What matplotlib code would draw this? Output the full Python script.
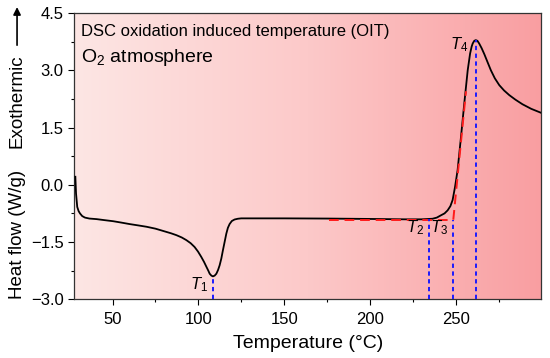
import numpy as np
import matplotlib
matplotlib.use("Agg")
import matplotlib.pyplot as plt
from matplotlib.colors import LinearSegmentedColormap

plt.rcParams['font.family'] = ['Liberation Sans', 'DejaVu Sans']
plt.rcParams['mathtext.fontset'] = 'custom'
plt.rcParams['mathtext.rm'] = 'Liberation Sans'
plt.rcParams['mathtext.it'] = 'Liberation Sans:italic'

# DSC curve (temperature in °C, heat flow in W/g)
temperature = [28.3, 28.7, 29.4, 30.2, 31.0, 32.3, 33.9, 36.5, 40.7, 45.0, 50.4, 55.0,
               60.0, 65.0, 69.8, 75.0, 79.5, 84.0, 87.2, 90.3, 93.0, 95.5, 97.8, 99.8,
               101.7, 103.3, 104.7, 105.8, 106.6, 107.6, 108.5, 109.5, 110.5, 111.5,
               112.4, 113.4, 114.3, 115.3, 116.3, 117.2, 118.2, 119.5, 121.1, 123.0,
               125.0, 130.0, 150.0, 175.0, 200.0, 220.0, 230.0, 236.5, 239.0, 241.4,
               243.5, 245.3, 246.9, 248.2, 249.6, 251.1, 253.1, 255.0, 257.0, 258.4,
               259.3, 259.9, 260.8, 261.7, 262.7, 263.7, 265.1, 266.7, 268.5, 270.5,
               272.8, 275.4, 278.2, 281.2, 284.8, 288.9, 294.0, 299.5]
heat_flow = [0.21, -0.23, -0.58, -0.69, -0.75, -0.82, -0.86, -0.885, -0.90, -0.925,
             -0.955, -0.99, -1.03, -1.065, -1.10, -1.15, -1.21, -1.27, -1.32, -1.38,
             -1.45, -1.53, -1.63, -1.75, -1.89, -2.02, -2.15, -2.25, -2.33, -2.38,
             -2.40, -2.38, -2.33, -2.23, -2.11, -1.93, -1.72, -1.50, -1.28, -1.13,
             -1.03, -0.95, -0.91, -0.89, -0.88, -0.88, -0.88, -0.885, -0.895, -0.905,
             -0.905, -0.89, -0.86, -0.80, -0.75, -0.67, -0.56, -0.40, -0.06, 0.38,
             1.26, 2.13, 3.00, 3.44, 3.62, 3.70, 3.77, 3.79, 3.77, 3.70, 3.58, 3.42,
             3.22, 3.00, 2.79, 2.61, 2.47, 2.35, 2.23, 2.11, 1.99, 1.89]

# Onset construction lines (red dashed)
baseline_T = [176.0, 248.6]
baseline_v = [-0.915, -0.915]
tangent_T = [248.6, 256.0]
tangent_v = [-0.915, 2.45]

# Characteristic temperatures (blue dashed markers)
marker_T = [108.5, 234.3, 248.2, 261.7]
marker_top = [-2.40, -0.90, -0.915, 3.79]
marker_labels = ['$T_1$', '$T_2$', '$T_3$', '$T_4$']
label_pos = [(105.5, -2.62), (231.5, -1.12), (245.5, -1.12), (257.5, 3.66)]

xticks = [50, 100, 150, 200, 250]
yticks = [-3.0, -1.5, 0.0, 1.5, 3.0, 4.5]

fig = plt.figure(figsize=(5.5, 3.58), dpi=100)
ax = fig.add_axes([0.1345, 0.164, 0.8500, 0.7997])

xmin, xmax = 27.5, 300.0
ymin, ymax = -3.0, 4.5

# background gradient
cmap = LinearSegmentedColormap.from_list('bg', ['#fde6e4', '#fcc9c9', '#f99ea1'])
grad = np.linspace(0, 1, 256).reshape(1, -1)
ax.imshow(grad, cmap=cmap, aspect='auto', extent=[xmin, xmax, ymin, ymax],
          zorder=0, interpolation='bilinear')

ax.plot(temperature, heat_flow, color='black', lw=1.3, zorder=3)
ax.plot(baseline_T, baseline_v, color='#ff1a1a', lw=1.4, ls=(0, (5, 3)), zorder=4)
ax.plot(tangent_T, tangent_v, color='#ff1a1a', lw=1.4, ls=(0, (5, 3)), zorder=4)

for t, top in zip(marker_T, marker_top):
    ax.plot([t, t], [ymin, top], color='#1a1aff', lw=1.4, ls=(0, (2.2, 1.8)), zorder=5)

for lab, (tx, ty) in zip(marker_labels, label_pos):
    ax.text(tx, ty, lab, fontsize=12, ha='right', va='center', zorder=6)

ax.text(0.016, 0.92, 'DSC oxidation induced temperature (OIT)', transform=ax.transAxes,
        fontsize=12, ha='left', va='baseline')
ax.text(0.016, 0.83, 'O$_2$ atmosphere', transform=ax.transAxes,
        fontsize=14, ha='left', va='baseline')

ax.set_xlim(xmin, xmax)
ax.set_ylim(ymin, ymax)
ax.set_xticks(xticks)
ax.set_xticks([75, 125, 175, 225, 275], minor=True)
ax.set_yticks(yticks)
ax.set_yticks([-2.25, -0.75, 0.75, 2.25, 3.75], minor=True)
ax.set_yticklabels(['\u22123.0', '\u22121.5', '0.0', '1.5', '3.0', '4.5'])
ax.tick_params(axis='x', which='major', pad=5)
ax.tick_params(which='major', direction='out', length=4, width=0.8, labelsize=12)
ax.tick_params(which='minor', direction='out', length=2.5, width=0.8)
for s in ax.spines.values():
    s.set_color('#333333')
    s.set_linewidth(0.9)

ax.set_xlabel('Temperature (\u00b0C)', fontsize=14, labelpad=6)

fig.text(0.031, 0.346, 'Heat flow (W/g)', rotation=90, fontsize=13.5,
         ha='center', va='center')
fig.text(0.031, 0.718, 'Exothermic', rotation=90, fontsize=13.5,
         ha='center', va='center')
fig.patches.append(matplotlib.patches.FancyArrowPatch(
    (0.031, 0.866), (0.031, 0.988), transform=fig.transFigure,
    arrowstyle='-|>', mutation_scale=11, lw=1.2, color='black'))

fig.savefig('out.png', dpi=100)
